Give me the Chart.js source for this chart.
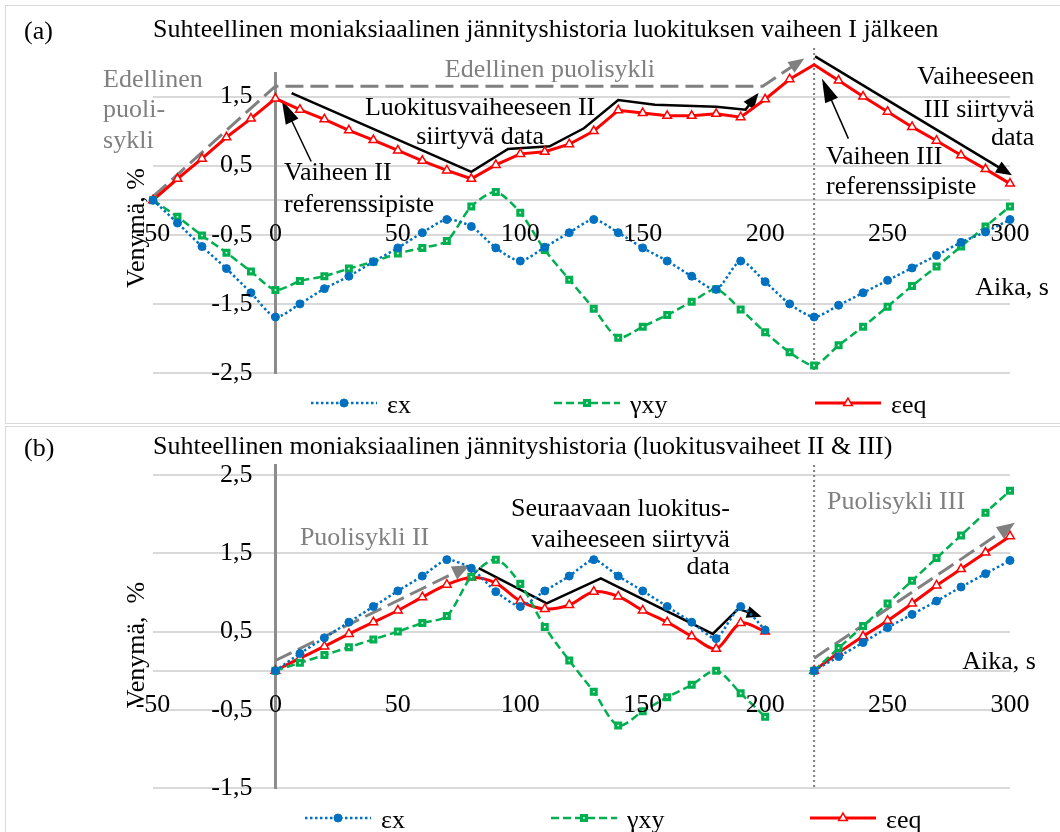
<!DOCTYPE html>
<html>
<head>
<meta charset="utf-8">
<script src="https://cdn.jsdelivr.net/npm/chart.js@4.4.1/dist/chart.umd.min.js"></script>
<style>
  body { margin: 0; background: #fff; width: 1060px; height: 832px; overflow: hidden; position: relative; }
  .frame { position: absolute; left: 5px; width: 1080px; border: 1px solid #d9d9d9; box-sizing: border-box; }
  canvas { position: absolute; left: 0; }
</style>
</head>
<body>
<div class="frame" style="top:5px;height:419px"></div>
<div class="frame" style="top:426px;height:420px"></div>
<canvas id="chartA" width="1060" height="422" style="top:0"></canvas>
<canvas id="chartB" width="1060" height="407" style="top:425px"></canvas>
<script>
// --- data, panel (a) ---
var timeA = [-50, -40, -30, -20, -10, 0, 10, 20, 30, 40, 50, 60, 70, 80, 90, 100, 110, 120, 130,
    140, 150, 160, 170, 180, 190, 200, 210, 220, 230, 240, 250, 260, 270, 280, 290, 300];
var epsXA = [0, -0.33, -0.67, -0.99, -1.34, -1.69, -1.50, -1.28, -1.10, -0.89, -0.69, -0.47, -0.28, -0.38,
    -0.69, -0.88, -0.68, -0.47, -0.28, -0.47, -0.69, -0.88, -1.10, -1.29, -0.88, -1.18, -1.50, -1.69,
    -1.52, -1.34, -1.16, -0.98, -0.80, -0.61, -0.46, -0.28];
var gammaXYA = [0, -0.24, -0.51, -0.76, -1.03, -1.30, -1.17, -1.10, -0.99, -0.89, -0.77, -0.69, -0.59, -0.09,
    0.12, -0.18, -0.72, -1.15, -1.57, -1.99, -1.83, -1.66, -1.47, -1.29, -1.58, -1.91, -2.20, -2.39,
    -2.10, -1.83, -1.54, -1.24, -0.96, -0.67, -0.38, -0.09];
var epsEqA = [0, 0.31, 0.60, 0.91, 1.18, 1.47, 1.31, 1.17, 1.01, 0.87, 0.72, 0.57, 0.43, 0.31,
    0.51, 0.67, 0.70, 0.81, 1.00, 1.30, 1.26, 1.22, 1.22, 1.25, 1.20, 1.46, 1.75, 1.96,
    1.73, 1.50, 1.28, 1.06, 0.86, 0.65, 0.45, 0.24];

// --- data, panel (b) --- (no value at 210: the two half cycles are separate)
var timeB = [0, 10, 20, 30, 40, 50, 60, 70, 80, 90, 100, 110, 120, 130, 140, 150, 160, 170, 180, 190, 200,
    210, 220, 230, 240, 250, 260, 270, 280, 290, 300];
var epsXB = [0, 0.22, 0.42, 0.62, 0.82, 1.02, 1.21, 1.42, 1.31, 1.01, 0.82, 1.02, 1.21, 1.42, 1.21, 1.02,
    0.82, 0.62, 0.41, 0.82, 0.52, null, 0, 0.18, 0.36, 0.55, 0.72, 0.89, 1.07, 1.24, 1.41];
var gammaXYB = [0, 0.10, 0.20, 0.30, 0.40, 0.50, 0.61, 0.70, 1.20, 1.42, 1.11, 0.56, 0.13, -0.27, -0.70, -0.52,
    -0.34, -0.18, 0.0, -0.29, -0.59, null, 0, 0.29, 0.57, 0.86, 1.15, 1.44, 1.73, 2.02, 2.30];
var epsEqB = [0, 0.16, 0.31, 0.47, 0.62, 0.77, 0.94, 1.10, 1.19, 1.12, 0.89, 0.79, 0.84, 1.01, 0.95, 0.77,
    0.62, 0.44, 0.28, 0.61, 0.50, null, 0, 0.23, 0.44, 0.64, 0.86, 1.09, 1.30, 1.51, 1.72];

// --- axes ---
var xTicks = [-50, 0, 50, 100, 150, 200, 250, 300];
var yGridA = [-2.5, -1.5, -0.5, 0, 0.5, 1.5];
var yLabelsA = [-2.5, -1.5, -0.5, 0.5, 1.5];
var yGridB = [-1.5, -0.5, 0, 0.5, 1.5, 2.5];
var yLabelsB = [-1.5, -0.5, 0.5, 1.5, 2.5];
var seriesNames = ['\u03b5x', '\u03b3xy', '\u03b5eq'];

var FONT = '26px "Liberation Serif", "Times New Roman", serif';
var GRAY = '#808080';

var styles = [
    { borderColor: '#0070c0', borderWidth: 2.5, borderDash: [2.5, 2.5], pointStyle: 'circle', pointRadius: 4,
      pointBackgroundColor: '#0070c0', pointBorderColor: '#0070c0', pointBorderWidth: 1 },
    { borderColor: '#00b050', borderWidth: 2.5, borderDash: [8, 4], pointStyle: 'rect', pointRadius: 3.4,
      pointBackgroundColor: '#ffffff', pointBorderColor: '#00b050', pointBorderWidth: 3.2 },
    { borderColor: '#ff0000', borderWidth: 3, borderDash: [], pointStyle: 'triangle', pointRadius: 5,
      pointBackgroundColor: '#ffffff', pointBorderColor: '#ff0000', pointBorderWidth: 1.5 }
];

function series(i, times, vals, tension) {
    var ds = {
        label: seriesNames[i],
        data: times.map(function (t, k) { return { x: t, y: vals[k] }; }),
        fill: false,
        clip: false,
        tension: tension
    };
    return Object.assign(ds, styles[i]);
}

function fmt(v) {
    return String(v).replace('.', ',');
}

function drawMarker(ctx, st, x, y) {
    var r = st.pointRadius;
    ctx.save();
    ctx.setLineDash([]);
    ctx.fillStyle = st.pointBackgroundColor;
    ctx.strokeStyle = st.pointBorderColor;
    ctx.lineWidth = st.pointBorderWidth;
    ctx.beginPath();
    if (st.pointStyle === 'circle') {
        ctx.arc(x, y, r, 0, Math.PI * 2);
    } else if (st.pointStyle === 'rect') {
        var s = r * Math.SQRT1_2;
        ctx.rect(x - s, y - s, 2 * s, 2 * s);
    } else {
        ctx.moveTo(x, y - r);
        ctx.lineTo(x + r * Math.sin(2 * Math.PI / 3), y - r * Math.cos(2 * Math.PI / 3));
        ctx.lineTo(x + r * Math.sin(4 * Math.PI / 3), y - r * Math.cos(4 * Math.PI / 3));
        ctx.closePath();
    }
    ctx.fill();
    ctx.stroke();
    ctx.restore();
}

function drawPath(ctx, pts, p) {
    ctx.save();
    ctx.strokeStyle = p.color;
    ctx.fillStyle = p.color;
    ctx.lineWidth = p.width;
    ctx.setLineDash(p.dash || []);
    var n = pts.length;
    var end = pts[n - 1];
    var prev = pts[n - 2];
    var ang = Math.atan2(end[1] - prev[1], end[0] - prev[0]);
    ctx.beginPath();
    ctx.moveTo(pts[0][0], pts[0][1]);
    for (var i = 1; i < n - 1; i++) ctx.lineTo(pts[i][0], pts[i][1]);
    if (p.head) {
        ctx.lineTo(end[0] - Math.cos(ang) * p.head * 0.8, end[1] - Math.sin(ang) * p.head * 0.8);
    } else {
        ctx.lineTo(end[0], end[1]);
    }
    ctx.stroke();
    if (p.head) {
        var hw = p.headW || p.head * 0.4;
        ctx.setLineDash([]);
        ctx.beginPath();
        ctx.moveTo(end[0], end[1]);
        ctx.lineTo(end[0] - Math.cos(ang) * p.head + Math.sin(ang) * hw, end[1] - Math.sin(ang) * p.head - Math.cos(ang) * hw);
        ctx.lineTo(end[0] - Math.cos(ang) * p.head - Math.sin(ang) * hw, end[1] - Math.sin(ang) * p.head + Math.cos(ang) * hw);
        ctx.closePath();
        ctx.fill();
    }
    ctx.restore();
}

function text(ctx, s, x, y, align, color) {
    ctx.fillStyle = color || '#000';
    ctx.textAlign = align || 'left';
    ctx.textBaseline = 'middle';
    ctx.fillText(s, x, y);
}

function annotations(cfg) {
    return {
        id: 'annot',
        beforeDatasetsDraw: function (chart) {
            var ctx = chart.ctx, xs = chart.scales.x, ys = chart.scales.y;
            var px = function (p) { return [xs.getPixelForValue(p[0]), ys.getPixelForValue(p[1])]; };
            // dotted line at the phase change
            ctx.save();
            ctx.strokeStyle = '#7f7f7f';
            ctx.lineWidth = 2;
            ctx.setLineDash([2, 3]);
            ctx.beginPath();
            ctx.moveTo(xs.getPixelForValue(220), ys.getPixelForValue(cfg.markTop));
            ctx.lineTo(xs.getPixelForValue(220), ys.getPixelForValue(ys.min));
            ctx.stroke();
            ctx.restore();
            cfg.paths.forEach(function (p) { drawPath(ctx, p.pts.map(px), p); });
        },
        afterDraw: function (chart) {
            var ctx = chart.ctx, xs = chart.scales.x, ys = chart.scales.y;
            ctx.save();
            ctx.font = FONT;
            // tick labels
            var x0 = xs.getPixelForValue(0), y0 = ys.getPixelForValue(0);
            cfg.yLabels.forEach(function (v) { text(ctx, fmt(v), x0 - 23, ys.getPixelForValue(v), 'right'); });
            xTicks.forEach(function (t) { text(ctx, String(t), xs.getPixelForValue(t), y0 + 34, 'center'); });
            // notes
            cfg.notes.forEach(function (n) {
                text(ctx, n.t, xs.getPixelForValue(n.x), ys.getPixelForValue(n.y), n.align, n.gray ? GRAY : '#000');
            });
            // titles
            text(ctx, cfg.tag, 24, cfg.titleY + 2, 'left');
            text(ctx, cfg.title, 153, cfg.titleY, 'left');
            ctx.save();
            ctx.translate(137, cfg.yTitleY);
            ctx.rotate(-Math.PI / 2);
            text(ctx, cfg.yTitle, 0, 0, 'center');
            ctx.restore();
            // legend
            chart.data.datasets.forEach(function (ds, i) {
                var lx = cfg.legendX[i], ly = cfg.legendY;
                ctx.save();
                ctx.strokeStyle = ds.borderColor;
                ctx.lineWidth = ds.borderWidth;
                ctx.setLineDash(ds.borderDash);
                ctx.beginPath();
                ctx.moveTo(lx, ly);
                ctx.lineTo(lx + 66, ly);
                ctx.stroke();
                ctx.restore();
                drawMarker(ctx, ds, lx + 33, ly);
                text(ctx, ds.label, lx + 76, ly + 3, 'left');
            });
            ctx.restore();
        }
    };
}

function makeChart(id, cfg, datasets) {
    return new Chart(document.getElementById(id), {
        type: 'line',
        data: { datasets: datasets },
        options: {
            responsive: false,
            animation: false,
            events: [],
            layout: { padding: { left: 153, right: 50, top: cfg.padTop, bottom: cfg.padBottom } },
            plugins: { legend: { display: false }, title: { display: false }, tooltip: { enabled: false } },
            scales: {
                x: { type: 'linear', min: -50, max: 300, display: false },
                y: {
                    type: 'linear', min: cfg.yMin, max: cfg.yMax, position: { x: 0 },
                    afterBuildTicks: function (s) { s.ticks = cfg.yGrid.map(function (v) { return { value: v }; }); },
                    ticks: { display: false },
                    grid: { color: '#d9d9d9', lineWidth: 2, drawTicks: false },
                    border: { color: '#8c8c8c', width: 3 }
                }
            }
        },
        plugins: [annotations(cfg)]
    });
}

makeChart('chartA', {
    padTop: 73, padBottom: 49, yMin: -2.5, yMax: 1.84, markTop: 2.2,
    yGrid: yGridA, yLabels: yLabelsA,
    tag: '(a)', titleY: 30, yTitleY: 228, yTitle: 'Venymä, %',
    title: 'Suhteellinen moniaksiaalinen jännityshistoria luokituksen vaiheen I jälkeen',
    legendX: [311, 554, 815], legendY: 403,
    paths: [
        { pts: [[-50, 0.05], [0, 1.65], [199, 1.65], [216, 2.05]], color: GRAY, width: 3, dash: [18, 7], head: 16 },
        { pts: [[6.6, 1.55], [80, 0.41], [95, 0.74], [112, 0.78], [126, 1.04], [140, 1.45], [155, 1.38],
                [180, 1.35], [192, 1.31], [197.3, 1.55]], color: '#000', width: 2.5, head: 16 },
        { pts: [[220.4, 2.08], [300.8, 0.36]], color: '#000', width: 2.5, head: 16 },
        { pts: [[14.6, 0.56], [2.6, 1.45]], color: '#000', width: 1.5, head: 24, headW: 7 },
        { pts: [[234, 0.89], [223.2, 1.76]], color: '#000', width: 1.5, head: 24, headW: 7 }
    ],
    notes: [
        { t: 'Edellinen', x: -70.4, y: 1.74, gray: true },
        { t: 'puoli-', x: -70.4, y: 1.30, gray: true },
        { t: 'sykli', x: -70.4, y: 0.86, gray: true },
        { t: 'Edellinen puolisykli', x: 69.2, y: 1.88, gray: true },
        { t: 'Luokitusvaiheeseen II', x: 83.6, y: 1.33, align: 'center' },
        { t: 'siirtyvä data', x: 83.6, y: 0.91, align: 'center' },
        { t: 'Vaiheen II', x: 3.5, y: 0.39 },
        { t: 'referenssipiste', x: 3.5, y: -0.07 },
        { t: 'Vaiheeseen', x: 309.9, y: 1.78, align: 'right' },
        { t: 'III siirtyvä', x: 309.9, y: 1.30, align: 'right' },
        { t: 'data', x: 309.9, y: 0.90, align: 'right' },
        { t: 'Vaiheen III', x: 224.9, y: 0.62 },
        { t: 'referenssipiste', x: 224.9, y: 0.19 },
        { t: 'Aika, s', x: 285.8, y: -1.28 }
    ]
}, [series(0, timeA, epsXA, 0.25), series(1, timeA, gammaXYA, 0.25), series(2, timeA, epsEqA, 0)]);

makeChart('chartB', {
    padTop: 40, padBottom: 44, yMin: -1.5, yMax: 2.63, markTop: 2.63,
    yGrid: yGridB, yLabels: yLabelsB,
    tag: '(b)', titleY: 22, yTitleY: 220, yTitle: 'Venymä,  %',
    title: 'Suhteellinen moniaksiaalinen jännityshistoria (luokitusvaiheet II & III)',
    legendX: [305, 551, 810], legendY: 393,
    paths: [
        { pts: [[0, 0.13], [79.5, 1.35]], color: GRAY, width: 3, dash: [18, 7], head: 18 },
        { pts: [[220, 0.16], [302, 1.89]], color: GRAY, width: 3, dash: [18, 7], head: 18 },
        { pts: [[83, 1.31], [110.8, 0.86], [132.9, 1.18], [178.6, 0.47], [189, 0.79], [198.6, 0.69]],
          color: '#000', width: 2.5, head: 15 }
    ],
    notes: [
        { t: 'Puolisykli II', x: 10.0, y: 1.70, gray: true },
        { t: 'Puolisykli III', x: 225.3, y: 2.16, gray: true },
        { t: 'Seuraavaan luokitus-', x: 185.6, y: 2.06, align: 'right' },
        { t: 'vaiheeseen siirtyvä', x: 185.6, y: 1.67, align: 'right' },
        { t: 'data', x: 185.6, y: 1.32, align: 'right' },
        { t: 'Aika, s', x: 280.5, y: 0.11 }
    ]
}, [series(0, timeB, epsXB, 0.2), series(1, timeB, gammaXYB, 0.3), series(2, timeB, epsEqB, 0.3)]);
</script>
</body>
</html>
